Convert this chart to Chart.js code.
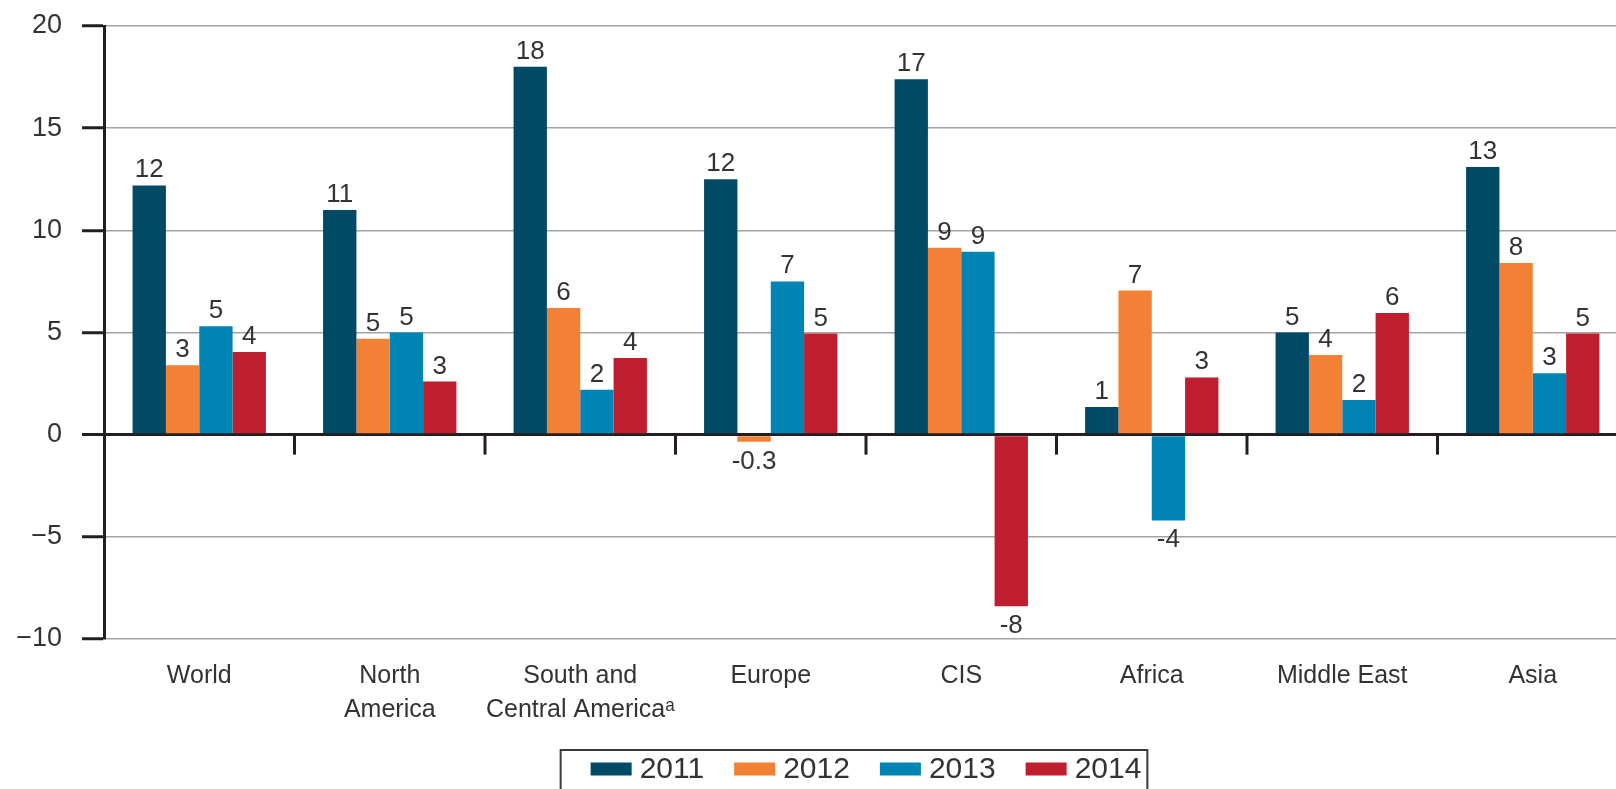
<!DOCTYPE html>
<html>
<head>
<meta charset="utf-8">
<script src="https://cdn.jsdelivr.net/npm/chart.js@4/dist/chart.umd.min.js"></script>
<style>
  html, body { margin: 0; padding: 0; background: #fff; overflow: hidden; }
  /* plot runs a little past the right edge, like the original */
  #wrap { width: 1628px; height: 789px; }
</style>
</head>
<body>
<div id="wrap"><canvas id="growth"></canvas></div>
<script>
const regions = ['World', ['North', 'America'], ['South and', 'Central Americaᵃ'], 'Europe', 'CIS', 'Africa', 'Middle East', 'Asia'];
const years = ['2011', '2012', '2013', '2014'];

// values
const values2011 = [12.2, 11.0, 18.0, 12.5, 17.4, 1.35, 5.0, 13.1];
const values2012 = [3.4, 4.7, 6.2, -0.35, 9.15, 7.05, 3.9, 8.4];
const values2013 = [5.3, 5.0, 2.2, 7.5, 8.95, -4.2, 1.7, 3.0];
const values2014 = [4.05, 2.6, 3.75, 4.95, -8.4, 2.8, 5.95, 4.95];

// numbers printed on top of the bars
const labels2011 = ['12', '11', '18', '12', '17', '1', '5', '13'];
const labels2012 = ['3', '5', '6', '-0.3', '9', '7', '4', '8'];
const labels2013 = ['5', '5', '2', '7', '9', '-4', '2', '3'];
const labels2014 = ['4', '3', '4', '5', '-8', '3', '6', '5'];

const yTicks = [-10, -5, 0, 5, 10, 15, 20];

const colors = ['#004a66', '#f28135', '#0084b4', '#be1e2d'];
const INK = '#231f20';
const TEXT = '#333333';
const FONT = 'Liberation Sans';

const allValues = [values2011, values2012, values2013, values2014];
const allLabels = [labels2011, labels2012, labels2013, labels2014];

const extras = {
  id: 'extras',
  afterDatasetsDraw(chart) {
    const ctx = chart.ctx;
    const x = chart.scales.x;
    const y = chart.scales.y;
    const zero = y.getPixelForValue(0);

    // little separators hanging under the zero line
    ctx.save();
    ctx.strokeStyle = INK;
    ctx.lineWidth = 3;
    for (let i = 1; i < regions.length; i++) {
      const px = (x.getPixelForTick(i - 1) + x.getPixelForTick(i)) / 2;
      ctx.beginPath();
      ctx.moveTo(px, zero);
      ctx.lineTo(px, zero + 20);
      ctx.stroke();
    }

    // value labels
    ctx.font = `26px "${FONT}"`;
    ctx.fillStyle = TEXT;
    ctx.textAlign = 'center';
    ctx.textBaseline = 'alphabetic';
    chart.data.datasets.forEach((ds, d) => {
      const meta = chart.getDatasetMeta(d);
      meta.data.forEach((bar, i) => {
        const v = ds.data[i];
        if (v >= 0) {
          ctx.fillText(allLabels[d][i], bar.x, bar.y - 8);
        } else {
          ctx.fillText(allLabels[d][i], bar.x, bar.y + 27);
        }
      });
    });
    ctx.restore();
  },
  afterDraw(chart) {
    // boxed legend at the bottom
    const ctx = chart.ctx;
    const area = chart.chartArea;
    ctx.save();
    ctx.font = `30px "${FONT}"`;
    const swatchW = 41, swatchH = 13, gap = 8, itemGap = 30;
    const widths = chart.data.datasets.map(ds => swatchW + gap + ctx.measureText(ds.label).width);
    const total = widths.reduce((a, b) => a + b, 0) + itemGap * (widths.length - 1);
    let cx = (area.left + area.right) / 2 - total / 2;
    const top = chart.height - 39;
    const mid = top + 19;

    ctx.strokeStyle = '#3a3a3a';
    ctx.lineWidth = 2;
    ctx.strokeRect(cx - 30, top, total + 36, 60);

    ctx.textBaseline = 'middle';
    ctx.textAlign = 'left';
    chart.data.datasets.forEach((ds, d) => {
      ctx.fillStyle = ds.backgroundColor;
      ctx.fillRect(cx, mid - swatchH / 2, swatchW, swatchH);
      ctx.fillStyle = TEXT;
      ctx.fillText(ds.label, cx + swatchW + gap, mid + 1);
      cx += widths[d] + itemGap;
    });
    ctx.restore();
  }
};

new Chart(document.getElementById('growth'), {
  type: 'bar',
  data: {
    labels: regions,
    datasets: years.map((yr, d) => ({
      label: yr,
      data: allValues[d],
      backgroundColor: colors[d],
      borderWidth: 0,
    })),
  },
  options: {
    responsive: true,
    maintainAspectRatio: false,
    animation: false,
    layout: { padding: { top: 26, right: 0, bottom: 0, left: 0 } },
    datasets: { bar: { categoryPercentage: 0.7, barPercentage: 1 } },
    scales: {
      x: {
        grid: { display: false },
        border: { display: false },
        ticks: {
          color: TEXT,
          font: { family: FONT, size: 25, lineHeight: 1.35 },
          padding: 12,
          maxRotation: 0,
          autoSkip: false,
        },
        afterFit: (s) => { s.height = 150; },
      },
      y: {
        min: -10,
        max: 20,
        afterBuildTicks: (s) => { s.ticks = yTicks.map(v => ({ value: v })); },
        ticks: {
          color: TEXT,
          font: { family: FONT, size: 27 },
          padding: 20,
          callback: (v) => (v < 0 ? '\u2212' + Math.abs(v) : String(v)),
        },
        grid: {
          color: (c) => (c.tick && c.tick.value === 0 ? INK : '#a3a3a3'),
          lineWidth: (c) => (c.tick && c.tick.value === 0 ? 3 : 1.5),
          tickColor: INK,
          tickWidth: 3,
          tickLength: 22,
        },
        border: { color: INK, width: 3 },
        afterFit: (s) => {
          s.width = 104;
          s.paddingTop = 0;
          s.paddingBottom = 0;
        },
      },
    },
    plugins: {
      legend: { display: false },
      tooltip: { enabled: false },
    },
  },
  plugins: [extras],
});
</script>
</body>
</html>
